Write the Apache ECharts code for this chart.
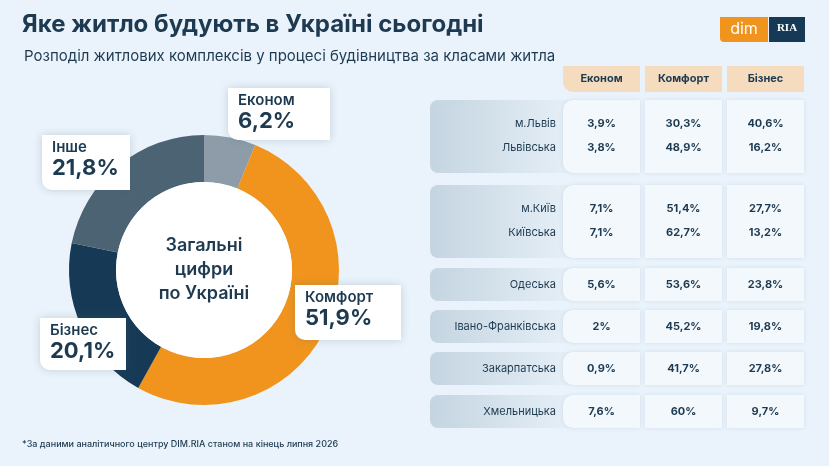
<!DOCTYPE html>
<html><head><meta charset="utf-8">
<script src="https://cdn.jsdelivr.net/npm/echarts@6/dist/echarts.min.js"></script>
<style>html,body{margin:0;padding:0;background:#eaf3fb}#c{width:829px;height:466px}</style>
</head><body><div id="c"></div>
<script>
const pieNames = ['Економ','Комфорт','Бізнес','Інше'];
const pieValues = [6.2, 51.9, 20.1, 21.8];
const pieColors = ['#8d9ca8','#f0941d','#163a55','#4b6373'];
const colHeaders = ['Економ','Комфорт','Бізнес'];
const groups = [
  [['м.Львів','3,9%','30,3%','40,6%'],['Львівська','3,8%','48,9%','16,2%']],
  [['м.Київ','7,1%','51,4%','27,7%'],['Київська','7,1%','62,7%','13,2%']],
  [['Одеська','5,6%','53,6%','23,8%']],
  [['Івано-Франківська','2%','45,2%','19,8%']],
  [['Закарпатська','0,9%','41,7%','27,8%']],
  [['Хмельницька','7,6%','60%','9,7%']]
];
const groupTops = [100,185,268,310,352,395];
const F = 'Inter, "Noto Sans", sans-serif';
const navy = '#1d3a50';
const g = [];
g.push({type:'text',left:22,top:13,style:{text:'Яке житло будують в Україні сьогодні',font:'bold 24px '+F,fill:navy}});
g.push({type:'text',left:24,top:49,style:{text:'Розподіл житлових комплексів у процесі будівництва за класами житла',font:'15px '+F,fill:navy}});
g.push({type:'rect',shape:{x:720,y:17,width:48,height:25,r:[0,0,0,4]},style:{fill:'#f0941d'}});
g.push({type:'text',x:744,y:29,style:{text:'dim',font:'16px '+F,fill:'#fff',align:'center',verticalAlign:'middle'}});
g.push({type:'rect',shape:{x:769,y:17,width:36,height:25},style:{fill:'#163a55'}});
g.push({type:'text',x:787,y:28,style:{text:'RIA',font:'bold 11px serif',fill:'#fff',align:'center',verticalAlign:'middle'}});
const colX = [563,645,727], colW = 77;
colHeaders.forEach((h,i)=>{
  g.push({type:'rect',shape:{x:colX[i],y:66,width:colW,height:26,r:i===0?[0,0,0,10]:0},style:{fill:'#f6dcbf'}});
  g.push({type:'text',x:colX[i]+colW/2,y:79,style:{text:h,font:'bold 11px '+F,fill:navy,align:'center',verticalAlign:'middle'}});
});
groups.forEach((rows,gi)=>{
  const top = groupTops[gi];
  const h = rows.length===2?73:33;
  g.push({type:'rect',shape:{x:430,y:top,width:140,height:h,r:[8,0,0,8]},style:{fill:new echarts.graphic.LinearGradient(0,0,1,0,[{offset:0,color:'#c4d5e1'},{offset:1,color:'#e6eff7'}])}});
  colX.forEach((x,ci)=>{
    g.push({type:'rect',shape:{x:x,y:top,width:colW,height:h,r:ci===0?[10,0,0,10]:0},style:{fill:'#f3f8fd',shadowBlur:4,shadowColor:'rgba(120,150,180,0.25)'}});
  });
  rows.forEach((r,ri)=>{
    const y = rows.length===2 ? top+24+ri*24 : top+h/2;
    g.push({type:'text',x:556,y:y,style:{text:r[0],font:'11px '+F,fill:navy,align:'right',verticalAlign:'middle'}});
    for(let k=0;k<3;k++) g.push({type:'text',x:colX[k]+colW/2,y:y,style:{text:r[k+1],font:'bold 11px '+F,fill:navy,align:'center',verticalAlign:'middle'}});
  });
});
const boxes = [[228,88,102,52],[295,285,106,55],[40,318,86,52],[42,135,88,55]];
boxes.forEach((b,i)=>{
  g.push({type:'rect',z:10,shape:{x:b[0],y:b[1],width:b[2],height:b[3],r:[0,0,0,10]},style:{fill:'#fff',shadowBlur:8,shadowColor:'rgba(60,90,120,0.25)'}});
  g.push({type:'text',z:11,left:b[0]+10,top:b[1]+5,style:{text:pieNames[i],font:'600 15px '+F,fill:navy}});
  g.push({type:'text',z:11,left:b[0]+10,top:b[1]+22,style:{text:String(pieValues[i]).replace('.',',')+'%',font:'bold 22px '+F,fill:navy}});
});
g.push({type:'text',x:204,y:270,z:5,style:{text:'Загальні\nцифри\nпо Україні',font:'600 18px '+F,lineHeight:24,fill:navy,align:'center',verticalAlign:'middle'}});
g.push({type:'text',left:22,top:440,style:{text:'*За даними аналітичного центру DIM.RIA станом на кінець липня 2026',font:'500 9px '+F,fill:navy}});
const chart = echarts.init(document.getElementById('c'));
chart.setOption({
  backgroundColor:'#eaf3fb',
  series:[
    {type:'pie',center:[204,270],radius:[88,135],startAngle:90,clockwise:true,label:{show:false},silent:true,
     data:pieNames.map((n,i)=>({name:n,value:pieValues[i],itemStyle:{color:pieColors[i]}}))},
    {type:'pie',center:[204,270],radius:[0,88],silent:true,label:{show:false},
     data:[{value:1,itemStyle:{color:'#fff'}}]}
  ],
  graphic:g
});
</script></body></html>
